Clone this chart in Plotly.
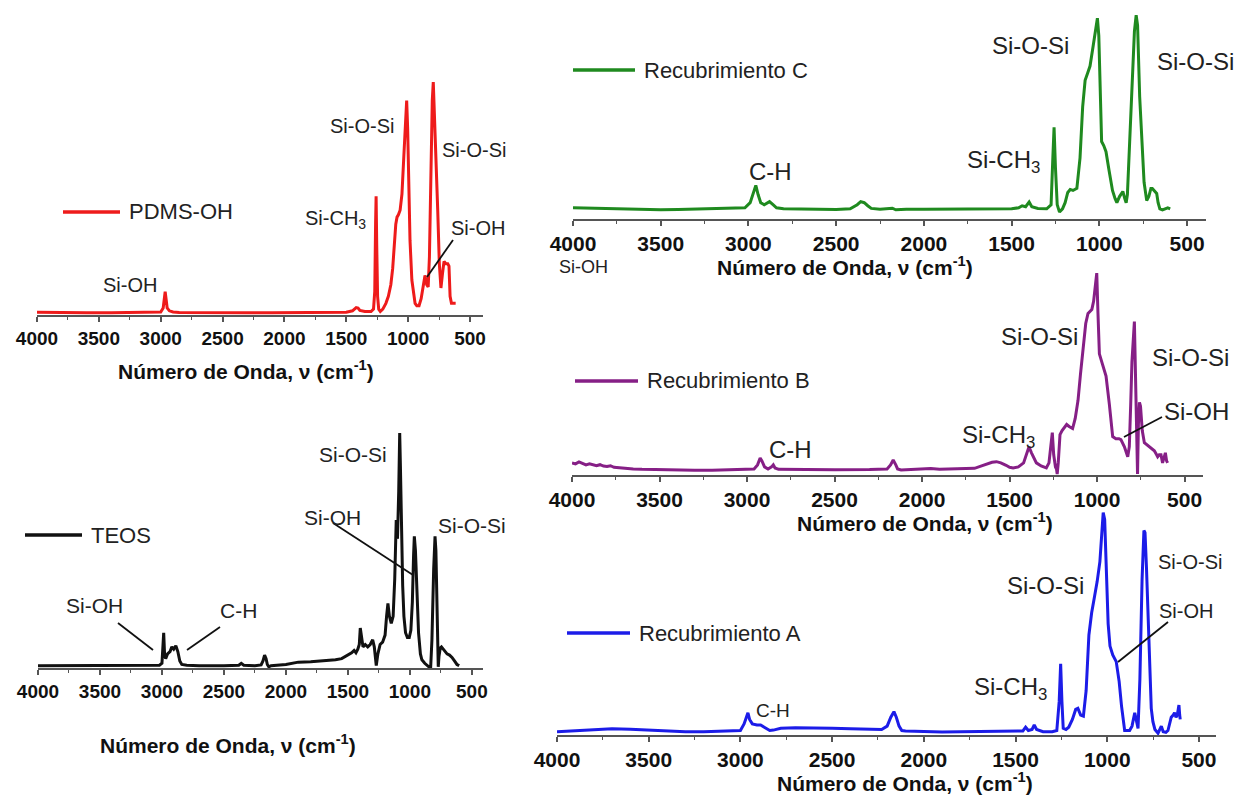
import plotly.graph_objects as go

# ---------------- data (wavenumber cm-1, relative intensity %) ----------------
TICK_STEP = 500
AXIS_TITLE = "<b>Número de Onda, ν (cm<sup>-1</sup>)</b>"

PDMS_OH = [(4000,1.2),(3800,1.0),(3600,1.0),(3400,1.0),(3200,1.0),(3050,1.0),(3000,1.3),(2980,3),(2970,8),
           (2964,10),(2957,7),(2948,3),(2930,1.8),(2900,1.3),(2850,1.1),(2700,1.0),(2500,1.0),(2300,1.0),
           (2100,1.0),(1900,1.0),(1700,1.0),(1500,1.2),(1450,1.8),(1420,3.2),(1405,3.0),(1390,2.0),(1350,1.5),
           (1300,1.5),(1280,2.5),(1270,10),(1263,40),(1259,51),(1254,30),(1247,8),(1238,2.5),(1225,1.5),
           (1205,2.5),(1180,5),(1160,8),(1140,13),(1125,20),(1110,32),(1100,39),(1090,42),(1079,43),(1065,45),
           (1050,52),(1035,68),(1022,85),(1012,92),(1004,80),(995,55),(985,32),(970,15),(955,8),(944,5),
           (930,4),(912,4),(895,7),(877,14),(864,17),(850,13),(838,12),(828,25),(815,65),(805,92),(797,100),
           (788,88),(775,65),(761,45),(748,22),(735,11.6),(722,18),(710,23),(695,22),(680,22),(670,21),
           (661,8),(650,5),(635,5),(616,5)]

TEOS = [(4000,1.0),(3700,1.0),(3400,1.0),(3100,1.0),(3020,1.2),(3000,2),(2992,9),(2986,15),(2979,6),(2970,4),
        (2955,6),(2935,7),(2920,9),(2905,8),(2888,9.5),(2872,7),(2856,3),(2840,1.5),(2800,1.2),(2700,1.0),
        (2500,1.0),(2380,1.2),(2360,2),(2340,1.2),(2250,1.0),(2200,1.3),(2185,3),(2172,5.5),(2160,4),
        (2150,1.5),(2138,0.5),(2120,1.0),(2000,1.5),(1900,2.5),(1800,2.7),(1700,3.0),(1600,3.5),(1550,4),
        (1500,5.5),(1470,6.5),(1450,7.5),(1435,6.5),(1420,8),(1408,10),(1400,17),(1390,12),(1378,9),
        (1360,10),(1340,9),(1320,10),(1300,12),(1287,9),(1271,1),(1258,6),(1240,10),(1220,11),(1200,14),
        (1188,22),(1177,27.5),(1165,22),(1150,19),(1135,22),(1122,38),(1110,63),(1100,55),(1090,75),
        (1082,100),(1076,85),(1068,55),(1058,35),(1048,22),(1035,15),(1020,13),(1005,13),(992,16),(980,28),
        (970,48),(964,56),(955,50),(945,32),(930,15),(915,6),(903,3.5),(880,2),(857,0.7),(842,0.3),
        (832,0.5),(822,12),(808,42),(797,56),(790,50),(782,25),(776,5),(771,0.5),(765,5),(755,8.5),
        (745,9),(725,7.5),(700,6),(680,5.5),(660,4.5),(640,3),(620,1.5),(602,1)]

REC_C = [(4000,5.5),(3900,5.3),(3800,5.0),(3700,4.8),(3600,4.6),(3500,4.5),(3400,4.6),(3300,4.8),(3200,4.8),
         (3100,5.0),(3020,5.5),(2990,8),(2970,13),(2958,16.5),(2945,12),(2930,8),(2910,7),(2880,8.5),
         (2860,7),(2840,5.5),(2800,5),(2700,4.8),(2600,4.7),(2500,4.7),(2420,5),(2380,7),(2360,8.5),
         (2340,8),(2320,6.5),(2300,5.2),(2250,4.8),(2180,5.3),(2160,4.5),(2100,4.8),(2000,4.8),(1900,4.9),
         (1800,5.0),(1700,4.9),(1600,4.9),(1500,5.0),(1460,5.5),(1440,6.5),(1420,6),(1400,8.3),(1385,6),
         (1350,5.2),(1300,5.0),(1275,7),(1265,30),(1258,45),(1250,25),(1240,7),(1227,3.4),(1210,5),
         (1195,8),(1180,13),(1166,14.5),(1150,14),(1128,15),(1110,30),(1095,55),(1081,68),(1065,72),
         (1053,75),(1035,85),(1020,95),(1011,98.5),(1003,90),(995,60),(987,38),(975,36),(962,33),(945,24),
         (925,14),(910,10),(900,8),(885,11),(866,13.5),(855,10),(847,8),(840,12),(828,35),(815,62),
         (800,92),(790,100),(782,95),(770,60),(758,38),(745,18),(730,9),(718,11),(706,15),(698,15),
         (688,14),(673,12.5),(665,8),(655,5),(640,4.5),(625,5),(610,5.5),(596,5)]

REC_B = [(4000,6),(3980,5.5),(3960,6.5),(3940,5.8),(3920,5),(3900,5.5),(3880,5),(3860,4.6),(3840,5.1),
         (3820,4.4),(3800,4.2),(3780,4.6),(3760,3.8),(3740,3.6),(3700,3.4),(3650,3.0),(3600,2.8),(3500,2.6),
         (3400,2.5),(3300,2.4),(3200,2.4),(3100,2.5),(3000,2.6),(2960,3.0),(2940,5),(2925,8.4),(2915,7),
         (2900,4),(2880,3),(2860,4),(2850,5),(2840,3.5),(2820,2.8),(2700,2.6),(2500,2.6),(2300,2.7),
         (2200,3),(2180,5),(2165,7.4),(2150,5),(2140,3),(2120,2.5),(2050,2.8),(2000,3),(1950,3.2),
         (1900,2.9),(1850,3),(1800,2.8),(1750,2.9),(1700,3.3),(1660,4.5),(1630,5.5),(1600,6.3),(1575,6.6),
         (1550,6),(1520,4.8),(1500,3.8),(1480,3.5),(1450,4),(1420,6),(1405,10),(1389,14),(1375,11),
         (1360,8),(1347,6),(1320,4.5),(1290,3.5),(1275,6),(1262,18),(1256,21),(1248,10),(1238,4),
         (1232,3),(1228,0.5),(1222,6),(1212,20),(1200,22),(1185,24),(1174,25),(1160,24),(1140,23),
         (1125,28),(1109,37),(1095,50),(1080,63),(1065,75),(1052,80),(1040,81),(1030,82),(1020,86),
         (1010,93),(1002,100),(995,80),(987,60),(970,55),(949,49),(930,35),(911,19),(893,18),(875,18),
         (864,17.5),(844,14),(825,9),(816,14),(808,35),(801,56),(787,76),(780,45),(774,12),(769,0.5),
         (764,25),(758,36),(752,34),(742,22),(730,16),(716,15),(702,14),(688,13),(673,12),(660,10),
         (654,9),(645,10),(635,10),(626,6),(618,9),(610,11),(603,7),(597,6)]

REC_A = [(4000,1.5),(3900,2.0),(3800,2.5),(3700,2.8),(3600,2.6),(3500,2.2),(3400,1.8),(3300,1.5),(3200,1.5),
         (3100,1.7),(3000,2.0),(2980,5),(2965,9),(2959,10),(2950,7),(2935,5),(2910,4.5),(2890,4.5),
         (2870,3.5),(2840,2),(2820,2.2),(2780,3),(2700,3.3),(2600,3.3),(2500,3.0),(2400,2.8),(2300,2.5),
         (2230,2.5),(2200,4),(2180,8),(2163,10.5),(2150,8),(2135,4),(2120,2),(2100,1.8),(2000,1.5),
         (1900,1.4),(1800,1.5),(1700,1.5),(1600,1.5),(1500,1.6),(1460,1.8),(1445,3.5),(1430,2),(1410,2.5),
         (1398,4.5),(1385,2.5),(1350,1.5),(1300,1.5),(1275,2),(1262,15),(1254,32),(1247,15),(1240,3),
         (1225,2.5),(1210,3.5),(1190,7),(1172,11.5),(1160,12),(1145,9),(1130,8.5),(1115,20),(1100,45),
         (1085,55),(1070,62),(1055,69),(1040,78),(1030,90),(1022,100),(1014,97),(1005,70),(995,50),
         (985,40),(978,38.5),(970,36),(951,33),(935,24),(922,13),(910,5),(905,2),(878,2),(865,4),(850,10),
         (840,6),(832,3),(822,25),(810,70),(800,92),(794,91),(786,75),(775,45),(769,31),(760,12),(751,6),
         (740,2.5),(723,0.8),(712,2.5),(705,4),(695,1.5),(680,1.2),(669,2),(660,5),(651,8),(640,9),
         (633,10),(625,8),(618,9),(612,12),(609,13.5),(605,9),(602,7)]

# ---------------- layout helpers (pixel -> paper) ----------------
W, H = 1243, 796
def X(px): return px / W
def Y(py): return 1 - py / H

FONT = "Arial, Liberation Sans, sans-serif"
AXCOL = "#555555"
TXT = "#222222"

panels = [
    dict(name="PDMS-OH", data=PDMS_OH, color="#ee1b1b", xpx=(37, 483), rng=(4000, 395), ypx=(315, 75),
         tick=19, legend=(63, 120, 212), title=(246, 370)),
    dict(name="TEOS", data=TEOS, color="#111111", xpx=(38, 483), rng=(4000, 410), ypx=(668, 426),
         tick=19, legend=(25, 82, 535), title=(228, 744)),
    dict(name="Recubrimiento C", data=REC_C, color="#1f8a1f", xpx=(573, 1206), rng=(4000, 392), ypx=(219, 9),
         tick=21, legend=(573, 635, 70), title=(845, 266)),
    dict(name="Recubrimiento B", data=REC_B, color="#861f86", xpx=(572, 1203), rng=(4000, 395), ypx=(475, 267),
         tick=21, legend=(575, 638, 381), title=(925, 522)),
    dict(name="Recubrimiento A", data=REC_A, color="#1c1ce8", xpx=(557, 1216), rng=(4000, 407), ypx=(735, 506),
         tick=21, legend=(567, 630, 633), title=(905, 782)),
]

# peak labels: (text, x_px, y_px, size)
labels = [
    ("Si-OH", 130, 285, 20), ("Si-CH<sub>3</sub>", 336, 219, 20), ("Si-O-Si", 362, 126, 20),
    ("Si-O-Si", 474, 150, 20), ("Si-OH", 478, 228, 20),
    ("Si-O-Si", 353, 455, 21), ("Si-OH", 333, 517, 21), ("Si-O-Si", 472, 525, 21),
    ("Si-OH", 95, 605, 21), ("C-H", 238, 610, 21),
    ("C-H", 770, 172, 24), ("Si-CH<sub>3</sub>", 1003, 162, 24), ("Si-O-Si", 1030, 46, 24),
    ("Si-O-Si", 1195, 62, 24), ("Si-OH", 583, 267, 18),
    ("C-H", 790, 450, 24), ("Si-CH<sub>3</sub>", 998, 436, 24), ("Si-O-Si", 1039, 336, 24),
    ("Si-O-Si", 1190, 357, 24), ("Si-OH", 1196, 411, 24),
    ("C-H", 773, 710, 19), ("Si-CH<sub>3</sub>", 1010, 688, 24), ("Si-O-Si", 1045, 585, 24),
    ("Si-O-Si", 1190, 562, 20), ("Si-OH", 1186, 611, 20),
]
pointers = [(453, 240, 427, 277), (333, 523, 413, 575), (118, 623, 153, 650), (220, 627, 187, 650),
            (1162, 417, 1124, 437), (1168, 622, 1118, 662)]

fig = go.Figure()
annotations, shapes = [], []
for i, p in enumerate(panels, start=1):
    sfx = "" if i == 1 else str(i)
    wn = [d[0] for d in p["data"]]
    val = [d[1] for d in p["data"]]
    fig.add_trace(go.Scatter(x=wn, y=val, mode="lines", name=p["name"], showlegend=False,
                             line=dict(color=p["color"], width=3), xaxis="x" + sfx, yaxis="y" + sfx))
    fig.layout["xaxis" + sfx] = dict(
        domain=[X(p["xpx"][0]), X(p["xpx"][1])], range=list(p["rng"]), anchor="y" + sfx,
        automargin=False,
        showline=True, linecolor=AXCOL, linewidth=1.5, ticks="outside", ticklen=5, tickwidth=1.5,
        tickcolor=AXCOL, tickmode="linear", tick0=0, dtick=TICK_STEP,
        tickfont=dict(family=FONT, size=p["tick"], color="#111111", weight="bold"),
        minor=dict(ticks="outside", ticklen=3, tickwidth=1.2, tickcolor=AXCOL, tick0=0, dtick=TICK_STEP / 2),
        showgrid=False, zeroline=False)
    fig.layout["yaxis" + sfx] = dict(domain=[Y(p["ypx"][0]), Y(p["ypx"][1])], range=[0, 103],
                                     anchor="x" + sfx, visible=False, automargin=False)
    lx0, lx1, ly = p["legend"]
    shapes.append(dict(type="line", xref="paper", yref="paper", x0=X(lx0), x1=X(lx1), y0=Y(ly), y1=Y(ly),
                       line=dict(color=p["color"], width=3.5)))
    annotations.append(dict(x=X(lx1 + 7), y=Y(ly), xref="paper", yref="paper", text=p["name"],
                            showarrow=False, xanchor="left", yanchor="middle",
                            font=dict(family=FONT, size=22, color=TXT)))
    tx, ty = p["title"]
    annotations.append(dict(x=X(tx), y=Y(ty), xref="paper", yref="paper", text=AXIS_TITLE,
                            showarrow=False, xanchor="center", yanchor="middle",
                            font=dict(family=FONT, size=21, color="#111111")))

for text, x, y, s in labels:
    annotations.append(dict(x=X(x), y=Y(y), xref="paper", yref="paper", text=text, showarrow=False,
                            xanchor="center", yanchor="middle", font=dict(family=FONT, size=s, color=TXT)))
for x0, y0, x1, y1 in pointers:
    shapes.append(dict(type="line", xref="paper", yref="paper", x0=X(x0), y0=Y(y0), x1=X(x1), y1=Y(y1),
                       line=dict(color="#111111", width=1.8)))

fig.update_layout(width=W, height=H, margin=dict(l=0, r=0, t=0, b=0, pad=0, autoexpand=False),
                  paper_bgcolor="white", plot_bgcolor="white", annotations=annotations, shapes=shapes,
                  font=dict(family=FONT, color=TXT))
fig.write_html("out.html")
